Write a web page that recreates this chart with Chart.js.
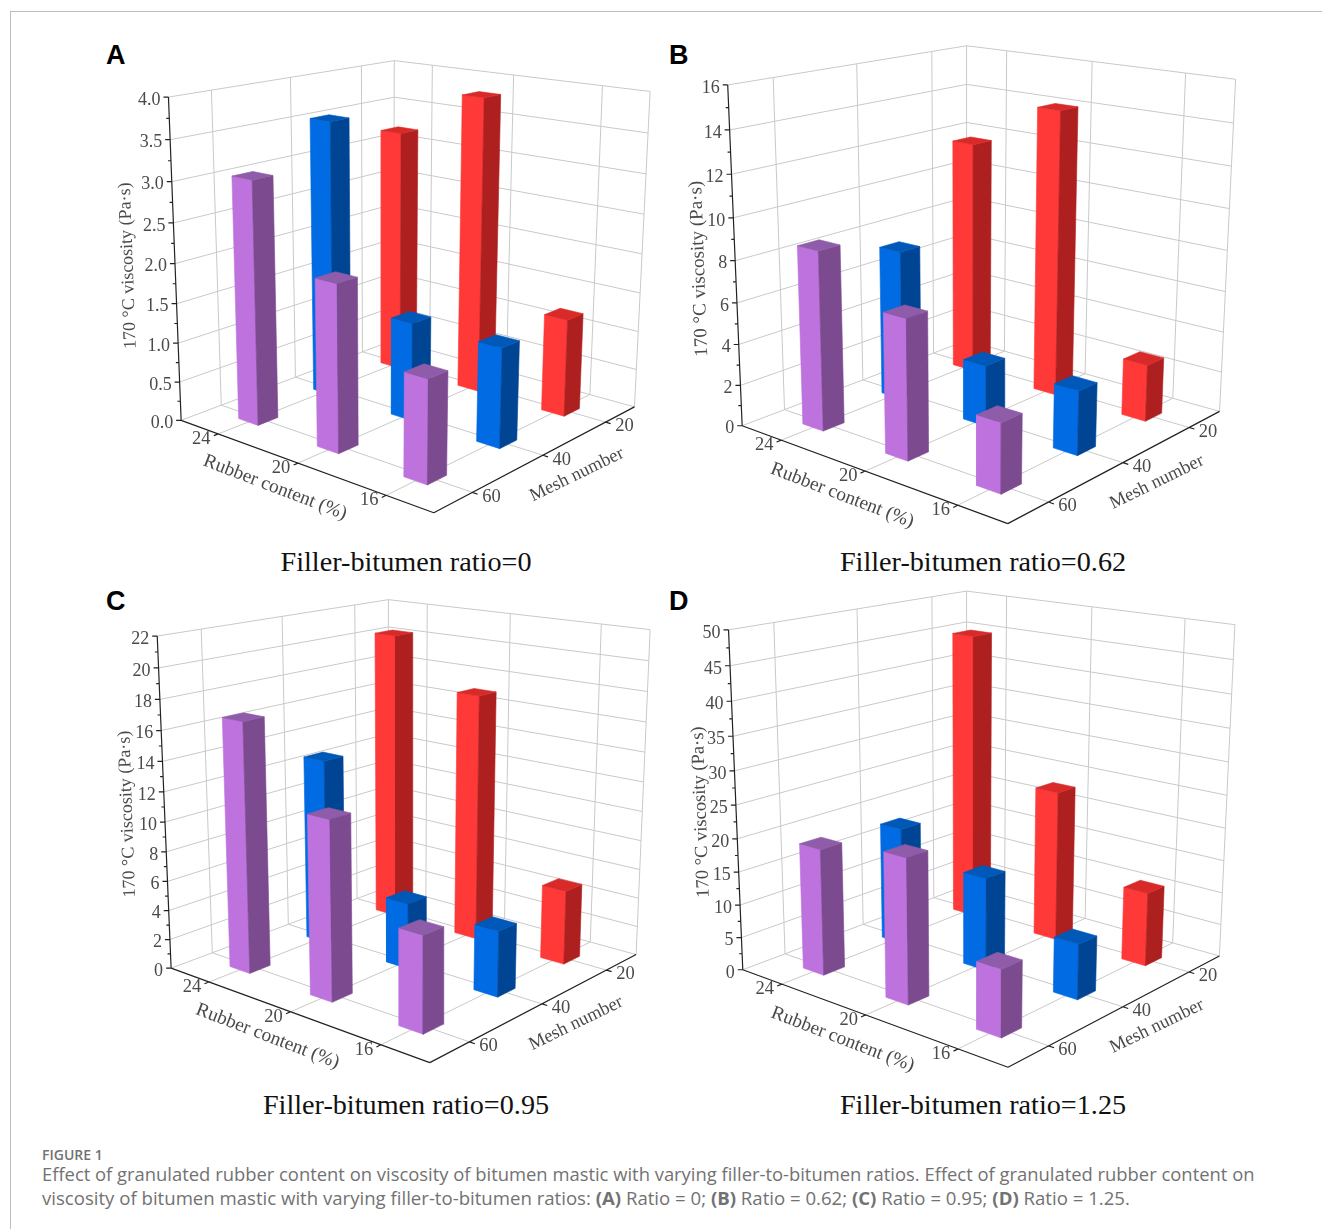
<!DOCTYPE html>
<html>
<head>
<meta charset="utf-8">
<title>Figure 1</title>
<script src="https://cdn.jsdelivr.net/npm/chart.js@4"></script>
<style>
  html, body { margin: 0; background: #fff; }
  #page { position: relative; width: 1322px; height: 1229px; overflow: hidden; }
  #page canvas { position: absolute; filter: blur(0.4px); }
  .rule-top { position: absolute; left: 10px; top: 11px; width: 1312px; height: 1px; background: #bdbdbd; }
  .rule-left { position: absolute; left: 10px; top: 11px; width: 1px; height: 1218px; background: #bdbdbd; }
  .letter { position: absolute; font: bold 27px "Liberation Sans", sans-serif; color: #000; line-height: 30px; }
  .sub { position: absolute; width: 500px; text-align: center; font: 28.2px "Liberation Serif", serif; color: #111; line-height: 32px; }
  .cap { position: absolute; left: 42px; white-space: nowrap; font-family: "Open Sans", sans-serif; color: #727272; }
</style>
</head>
<body>
<div id="page">
  <div class="rule-top"></div>
  <div class="rule-left"></div>
  <div class="letter" style="left:106px;top:40px">A</div>
  <div class="letter" style="left:669px;top:40px">B</div>
  <div class="letter" style="left:106px;top:586px">C</div>
  <div class="letter" style="left:669px;top:586px">D</div>
  <div class="sub" style="left:156px;top:546px">Filler-bitumen ratio=0</div>
  <div class="sub" style="left:733px;top:546px">Filler-bitumen ratio=0.62</div>
  <div class="sub" style="left:156px;top:1089px">Filler-bitumen ratio=0.95</div>
  <div class="sub" style="left:733px;top:1089px">Filler-bitumen ratio=1.25</div>
  <div class="cap" style="top:1145px;font-size:14px;font-weight:600">FIGURE 1</div>
  <div class="cap" style="top:1161px;font-size:18.4px">Effect of granulated rubber content on viscosity of bitumen mastic with varying filler-to-bitumen ratios. Effect of granulated rubber content on</div>
  <div class="cap" style="top:1185px;font-size:18.6px">viscosity of bitumen mastic with varying filler-to-bitumen ratios: <b>(A)</b> Ratio = 0; <b>(B)</b> Ratio = 0.62; <b>(C)</b> Ratio = 0.95; <b>(D)</b> Ratio = 1.25.</div>
</div>

<script>
const rubberContent = [24, 20, 16];
const meshNumbers = [60, 40, 20];

// viscosity per rubber content (24, 20, 16), one array per mesh number
const viscA60 = [3.055, 2.06, 1.245];
const viscA40 = [3.56, 1.255, 1.245];
const viscA20 = [3.22, 3.83, 1.25];

const viscB60 = [8.64, 6.61, 3.22];
const viscB40 = [7.44, 2.98, 3.07];
const viscB20 = [11.8, 14.14, 2.79];

const viscC60 = [16.77, 11.8, 6.2];
const viscC40 = [12.85, 4.49, 4.37];
const viscC20 = [20.37, 17.1, 5.07];

const viscD60 = [19.05, 21.35, 9.7];
const viscD40 = [18.2, 14.15, 8.25];
const viscD20 = [45.15, 23.4, 11.25];

const ticksA = ["0.0", "0.5", "1.0", "1.5", "2.0", "2.5", "3.0", "3.5", "4.0"];
const ticksB = ["0", "2", "4", "6", "8", "10", "12", "14", "16"];
const ticksC = ["0", "2", "4", "6", "8", "10", "12", "14", "16", "18", "20", "22"];
const ticksD = ["0", "5", "10", "15", "20", "25", "30", "35", "40", "45", "50"];

const COLORS = {
  60: { front: "#bd72de", side: "#7b4a8f", top: "#8e5ca8" },
  40: { front: "#006be2", side: "#004494", top: "#0059b8" },
  20: { front: "#ff3838", side: "#ae2020", top: "#d92a2a" }
};
const BAR_W = 0.085;

// where the plot box corners sit on the page: u = rubber, v = mesh, w = value
function boxCorners(lt, bt, rt, lb, fb, rb, bb) {
  return [
    [0, 0, 1, lt], [0, 1, 1, bt], [1, 1, 1, rt],
    [0, 0, 0, lb], [1, 0, 0, fb], [1, 1, 0, rb], [0, 1, 0, bb]
  ];
}

// least squares perspective camera from the box corners
function fitCamera(corners) {
  const rows = [];
  corners.forEach(([u, v, w, p]) => {
    const x = p[0] / 1000, y = p[1] / 1000;
    rows.push([u, v, w, 1, 0, 0, 0, 0, -x * u, -x * v, -x * w, x]);
    rows.push([0, 0, 0, 0, u, v, w, 1, -y * u, -y * v, -y * w, y]);
  });
  const n = 11;
  const m = [];
  for (let i = 0; i < n; i++) {
    m.push([]);
    for (let j = 0; j <= n; j++) {
      m[i].push(rows.reduce((s, r) => s + r[i] * r[j], 0));
    }
  }
  for (let i = 0; i < n; i++) {
    let best = i;
    for (let k = i + 1; k < n; k++) {
      if (Math.abs(m[k][i]) > Math.abs(m[best][i])) best = k;
    }
    [m[i], m[best]] = [m[best], m[i]];
    for (let k = 0; k < n; k++) {
      if (k === i) continue;
      const f = m[k][i] / m[i][i];
      for (let j = i; j <= n; j++) m[k][j] -= f * m[i][j];
    }
  }
  return m.map((r, i) => r[n] / r[i]);
}

function makePanel(cfg) {
  const cam = fitCamera(cfg.corners);
  const P = (u, v, w) => {
    const d = cam[8] * u + cam[9] * v + cam[10] * w + 1;
    return {
      x: 1000 * (cam[0] * u + cam[1] * v + cam[2] * w + cam[3]) / d,
      y: 1000 * (cam[4] * u + cam[5] * v + cam[6] * w + cam[7]) / d
    };
  };
  const pos = i => (i + 0.5) / 3;
  const ticks = cfg.ticks.map(t => parseFloat(t));
  const max = ticks[ticks.length - 1];

  const grid = [];
  const seg = (a, b) => { grid.push(a, b, { x: a.x, y: null }); };
  ticks.forEach(t => {
    const w = t / max;
    seg(P(0, 0, w), P(0, 1, w));
    seg(P(0, 1, w), P(1, 1, w));
  });
  [0, 1, 2].forEach(i => {
    seg(P(0, pos(i), 0), P(0, pos(i), 1));
    seg(P(pos(i), 1, 0), P(pos(i), 1, 1));
    seg(P(pos(i), 0, 0), P(pos(i), 1, 0));
    seg(P(0, pos(i), 0), P(1, pos(i), 0));
  });
  seg(P(0, 1, 0), P(0, 1, 1));
  seg(P(1, 1, 0), P(1, 1, 1));

  const axes = [];
  const axisSeg = (a, b) => { axes.push(a, b, { x: a.x, y: null }); };
  axisSeg(P(0, 0, 0), P(0, 0, 1));
  axisSeg(P(0, 0, 0), P(1, 0, 0));
  axisSeg(P(1, 0, 0), P(1, 1, 0));
  ticks.forEach((t, i) => {
    const a = P(0, 0, t / max);
    axisSeg(a, { x: a.x - 5, y: a.y });
    if (i < ticks.length - 1) {
      const b = P(0, 0, (t + (ticks[1] - ticks[0]) / 2) / max);
      axisSeg(b, { x: b.x - 3, y: b.y });
    }
  });
  [0, 1, 2].forEach(i => {
    axisSeg(P(pos(i), 0, 0), P(pos(i), -0.018, 0));
    axisSeg(P(1, pos(i), 0), P(1.018, pos(i), 0));
  });

  const datasets = [];
  const line = (data, color, width) => datasets.push({
    data: data, showLine: true, pointRadius: 0, borderColor: color, borderWidth: width, fill: false
  });
  const face = (pts, color) => datasets.push({
    data: pts.concat([pts[0]]), showLine: true, pointRadius: 0, fill: "shape",
    backgroundColor: color, borderColor: color, borderWidth: 0.6
  });
  line(grid, "#c9c9c9", 1);

  // back to front: back row first, left to right
  [2, 1, 0].forEach(mi => {
    rubberContent.forEach((r, ri) => {
      const value = cfg.series[mi][ri];
      const c = COLORS[meshNumbers[mi]];
      const u = pos(ri), v = pos(mi), w = value / max;
      const u0 = u - BAR_W / 2, u1 = u + BAR_W / 2, v0 = v - BAR_W / 2, v1 = v + BAR_W / 2;
      face([P(u0, v0, 0), P(u1, v0, 0), P(u1, v0, w), P(u0, v0, w)], c.front);
      face([P(u1, v0, 0), P(u1, v1, 0), P(u1, v1, w), P(u1, v0, w)], c.side);
      face([P(u0, v0, w), P(u1, v0, w), P(u1, v1, w), P(u0, v1, w)], c.top);
    });
  });
  line(axes, "#222", 1.2);
  datasets.forEach((d, i) => { d.order = datasets.length - i; });

  const [x0, y0, x1, y1] = cfg.rect;
  const canvas = document.createElement("canvas");
  canvas.width = x1 - x0;
  canvas.height = y1 - y0;
  canvas.style.left = x0 + "px";
  canvas.style.top = y0 + "px";
  document.getElementById("page").appendChild(canvas);

  const axisText = {
    id: "axisText",
    afterDraw(chart) {
      const { ctx, scales } = chart;
      const text = (s, p, dx, dy, angle, font) => {
        ctx.save();
        ctx.translate(scales.x.getPixelForValue(p.x + dx), scales.y.getPixelForValue(p.y + dy));
        ctx.rotate(angle * Math.PI / 180);
        ctx.font = font;
        ctx.fillStyle = "#4a4a4a";
        ctx.textAlign = "center";
        ctx.textBaseline = "middle";
        ctx.fillText(s, 0, 0);
        ctx.restore();
      };
      const serif = size => size + 'px "Liberation Serif"';
      cfg.ticks.forEach((t, i) => {
        ctx.save();
        const p = P(0, 0, ticks[i] / max);
        ctx.font = serif(18);
        ctx.fillStyle = "#4a4a4a";
        ctx.textAlign = "right";
        ctx.textBaseline = "middle";
        ctx.fillText(t, scales.x.getPixelForValue(p.x - 8), scales.y.getPixelForValue(p.y + 3));
        ctx.restore();
      });
      rubberContent.forEach((r, i) => text(String(r), P(pos(i), 0, 0), -17, 5, 0, serif(18.5)));
      meshNumbers.forEach((m, i) => text(String(m), P(1, pos(i), 0), 19, 4.5, 0, serif(18.5)));
      text("Rubber content (%)", P(0.5, 0, 0), -23, 24.5, 21, serif(19.3));
      text("Mesh number", P(1, 0.5, 0), 34, 19.5, -26, serif(18.5));
      text("170 °C viscosity (Pa·s)", P(0, 0, 0.5), -cfg.titleGap, cfg.titleDy, -92, serif(cfg.titleSize));
    }
  };

  new Chart(canvas, {
    type: "scatter",
    data: { datasets: datasets },
    plugins: [axisText],
    options: {
      responsive: false,
      animation: false,
      layout: { padding: 0 },
      plugins: { legend: { display: false }, tooltip: { enabled: false } },
      scales: {
        x: { type: "linear", display: false, min: x0, max: x1 },
        y: { type: "linear", display: false, reverse: true, min: y0, max: y1 }
      }
    }
  });
}

makePanel({
  rect: [100, 30, 660, 545],
  corners: boxCorners([168.3, 96.7], [394.5, 60.7], [650, 91.7], [181.7, 420.7], [433.3, 512.7], [635, 406.7], [393, 340]),
  series: [viscA60, viscA40, viscA20],
  ticks: ticksA, titleGap: 47, titleDy: 2, titleSize: 18
});
makePanel({
  rect: [660, 30, 1250, 545],
  corners: boxCorners([727.7, 85.1], [966.6, 45.8], [1235.6, 79.1], [742, 425.7], [1008, 523.5], [1219.4, 411.6], [966.6, 340.4]),
  series: [viscB60, viscB40, viscB20],
  ticks: ticksB, titleGap: 36, titleDy: 8, titleSize: 19
});
makePanel({
  rect: [100, 585, 660, 1090],
  corners: boxCorners([157.1, 636], [388.6, 599.5], [650, 629.8], [171.4, 967.9], [429.6, 1063], [636.4, 954.1], [388.6, 887]),
  series: [viscC60, viscC40, viscC20],
  ticks: ticksC, titleGap: 37, titleDy: 7, titleSize: 18
});
makePanel({
  rect: [660, 585, 1250, 1090],
  corners: boxCorners([728.5, 629.8], [966.6, 591.2], [1234.9, 624.6], [742.8, 970], [1008, 1067], [1219.4, 956.2], [966.6, 885]),
  series: [viscD60, viscD40, viscD20],
  ticks: ticksD, titleGap: 35, titleDy: 7, titleSize: 18.5
});
</script>
</body>
</html>
